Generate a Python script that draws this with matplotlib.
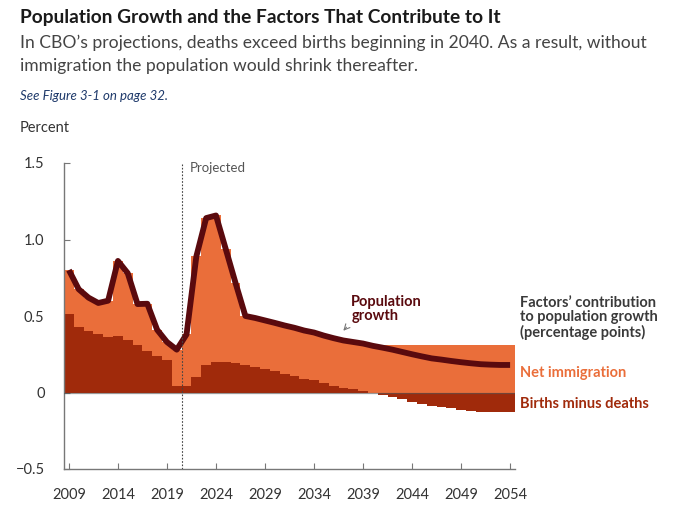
import numpy as np
import matplotlib
matplotlib.use("Agg")
import matplotlib.pyplot as plt

plt.rcParams["font.family"] = ["Lato", "DejaVu Sans"]

# Data (percent / percentage points)
years = np.arange(2009, 2055)

births_minus_deaths = [
    0.51, 0.43, 0.40, 0.38, 0.36, 0.37, 0.34, 0.31, 0.27, 0.24,   # 2009-2018
    0.21, 0.04, 0.04, 0.10, 0.18, 0.197, 0.197, 0.195, 0.18, 0.167,  # 2019-2028
    0.156, 0.14, 0.123, 0.108, 0.09, 0.08, 0.06, 0.043, 0.03, 0.02,  # 2029-2038
    0.01, -0.005, -0.017, -0.03, -0.045, -0.06, -0.074, -0.087, -0.095, -0.104,  # 2039-2048
    -0.112, -0.119, -0.125, -0.128, -0.13, -0.13,  # 2049-2054
]

net_immigration = [
    0.29, 0.245, 0.22, 0.205, 0.24, 0.49, 0.44, 0.268, 0.31, 0.17,
    0.12, 0.24, 0.34, 0.79, 0.96, 0.96, 0.74, 0.52, 0.32, 0.32,
    0.315, 0.315, 0.315, 0.315, 0.315, 0.312, 0.312, 0.312, 0.31, 0.31,
    0.31, 0.31, 0.31, 0.31, 0.31, 0.31, 0.31, 0.31, 0.31, 0.31,
    0.31, 0.31, 0.31, 0.31, 0.31, 0.31,
]

births = np.array(births_minus_deaths)
net = np.array(net_immigration)
growth = births + net

x_ticks = [2009, 2014, 2019, 2024, 2029, 2034, 2039, 2044, 2049, 2054]
y_ticks = [-0.5, 0, 0.5, 1.0, 1.5]
y_labels = ["\u22120.5", "0", "0.5", "1.0", "1.5"]

ORANGE = "#EA6E3A"
DARK = "#A02A0B"
LINE = "#5A0A0E"
GRAY = "#777777"

fig = plt.figure(figsize=(6.8, 5.12), dpi=100)
W, H = 680.0, 512.0
ax = fig.add_axes([64 / W, 1 - 469 / H, (515 - 64) / W, (469 - 163) / H])

ax.bar(years, births, width=1.0, color=DARK, linewidth=0, zorder=2)
ax.bar(years, net, width=1.0, bottom=np.maximum(births, 0), color=ORANGE,
       linewidth=0, zorder=2)
ax.axhline(0, color="#555555", lw=0.9, alpha=0.6, zorder=3)
ax.plot(years, growth, color=LINE, lw=4.2, zorder=4, solid_capstyle="butt")

# projected divider
ax.axvline(2020.5, color="#444444", lw=0.8, ls=(0, (1.5, 1.5)), zorder=5)
ax.text(2021.3, 1.47, "Projected", fontsize=9.5, color="#555555", va="center")

ax.set_xlim(2008.5, 2054.5)
ax.set_ylim(-0.5, 1.5)
ax.set_xticks(x_ticks)
ax.set_xticklabels([str(y) for y in x_ticks])
ax.set_yticks(y_ticks)
ax.set_yticklabels(y_labels)

for s in ["top", "right"]:
    ax.spines[s].set_visible(False)
for s in ["left", "bottom"]:
    ax.spines[s].set_color(GRAY)
    ax.spines[s].set_linewidth(1.0)
ax.tick_params(axis="x", direction="in", length=4, color=GRAY, pad=14,
               labelsize=10.5, labelcolor="#333333")
ax.tick_params(axis="y", direction="in", length=4, color=GRAY, pad=14,
               labelsize=10.5, labelcolor="#333333")

# series label with arrow
ax.text(2037.8, 0.545, "Population\ngrowth", fontsize=10.5, fontweight="bold",
        color=LINE, va="center", ha="left", linespacing=1.0)
ax.annotate("", xy=(2036.8, 0.39), xytext=(2037.5, 0.44),
            arrowprops=dict(arrowstyle="->", color=GRAY, lw=0.8))

# header text
fig.text(20 / W, 1 - 18 / H, "Population Growth and the Factors That Contribute to It",
         fontsize=13.8, fontweight="bold", color="#1a1a1a", va="center")
fig.text(20 / W, 1 - 43 / H,
         "In CBO\u2019s projections, deaths exceed births beginning in 2040. As a result, without",
         fontsize=12.6, color="#444444", va="center")
fig.text(20 / W, 1 - 66 / H, "immigration the population would shrink thereafter.",
         fontsize=12.6, color="#444444", va="center")
fig.text(20 / W, 1 - 96 / H, "See Figure 3-1 on page 32.", fontsize=9.5,
         style="italic", color="#1F3A6B", va="center")
fig.text(20 / W, 1 - 128 / H, "Percent", fontsize=10.5, color="#333333", va="center")

# right-hand legend text
fig.text(520 / W, 1 - 318 / H, "Factors\u2019 contribution\nto population growth\n(percentage points)",
         fontsize=10.5, fontweight="bold", color="#3a3a3a", va="center", linespacing=1.05)
fig.text(520 / W, 1 - 373 / H, "Net immigration", fontsize=10.5, fontweight="bold",
         color=ORANGE, va="center")
fig.text(520 / W, 1 - 404 / H, "Births minus deaths", fontsize=10.5, fontweight="bold",
         color=DARK, va="center")

fig.savefig("out.png", dpi=100)
